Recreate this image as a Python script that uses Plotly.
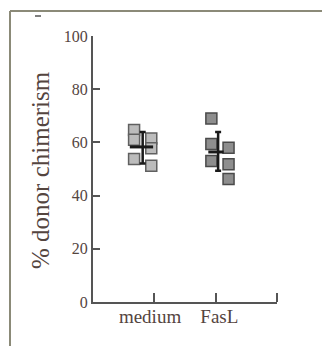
import plotly.graph_objects as go

categories = ["medium", "FasL"]
medium_values = [64.7, 61.0, 53.8, 61.5, 57.8, 51.2]
fasl_values = [69.0, 59.4, 53.0, 58.0, 51.8, 46.2]
medium_offsets = [-0.33, -0.33, -0.33, -0.05, -0.05, -0.05]
fasl_offsets = [-0.07, -0.07, -0.07, 0.21, 0.21, 0.21]
means = [58.3, 56.4]
err_plus = [5.6, 7.5]
err_minus = [6.2, 7.1]
mean_x = [0.81, 2.04]
y_ticks = [0, 20, 40, 60, 80, 100]

serif = "Liberation Serif, Times New Roman, serif"
txt = "#54453f"

fig = go.Figure()
fig.add_trace(go.Scatter(
    x=[1 + o for o in medium_offsets], y=medium_values, mode="markers",
    marker=dict(symbol="square", size=11, color="#bcbcbc", line=dict(color="#606060", width=1.5)),
    showlegend=False, hoverinfo="skip"))
fig.add_trace(go.Scatter(
    x=[2 + o for o in fasl_offsets], y=fasl_values, mode="markers",
    marker=dict(symbol="square", size=11, color="#8e8e8e", line=dict(color="#4a4a4a", width=1.5)),
    showlegend=False, hoverinfo="skip"))
half = [(0.6, 0.98), (1.88, 2.13)]
for i, m in enumerate(means):
    fig.add_trace(go.Scatter(x=list(half[i]), y=[m, m], mode="lines",
                             line=dict(color="#1a1a1a", width=3),
                             showlegend=False, hoverinfo="skip"))
fig.add_trace(go.Scatter(
    x=mean_x, y=means, mode="markers", marker=dict(size=1, color="rgba(0,0,0,0)"),
    error_y=dict(type="data", symmetric=False, array=err_plus, arrayminus=err_minus,
                 color="#1a1a1a", thickness=2.5, width=3),
    showlegend=False, hoverinfo="skip"))

fig.update_xaxes(range=[0, 3], tickvals=[0.93, 2.06], ticktext=categories,
                 ticks="", showline=True, linecolor="#555", linewidth=2, showgrid=False,
                 zeroline=False, ticklabelstandoff=-4,
                 minor=dict(tickvals=[1, 2, 3], ticks="inside", ticklen=9, tickwidth=2,
                            tickcolor="#555", showgrid=False),
                 tickfont=dict(family=serif, size=19, color=txt))
fig.update_yaxes(range=[0, 100], tickvals=y_ticks, ticks="inside", ticklen=7, tickwidth=2,
                 tickcolor="#555", showline=True, linecolor="#555", linewidth=2,
                 showgrid=False, zeroline=False,
                 tickfont=dict(family=serif, size=16, color=txt))

OFF = 8  # page body margin
L, T = 93 - OFF, 36 - OFF
pw, ph = 184, 266
W, H = 330, 346
R = W - L - pw
B = H - T - ph

def px(x):
    return (x - OFF - L) / pw

def py(y):
    return (T + ph - (y - OFF)) / ph

shapes = [
    dict(type="line", xref="paper", yref="paper", x0=px(10), x1=px(10), y0=py(360), y1=py(11),
         line=dict(color="#8b8a78", width=2)),
    dict(type="line", xref="paper", yref="paper", x0=px(10), x1=px(340), y0=py(11), y1=py(11),
         line=dict(color="#8b8a78", width=2)),
    dict(type="line", xref="paper", yref="paper", x0=px(35), x1=px(41), y0=py(16), y1=py(16),
         line=dict(color="#555", width=1.5)),
]

fig.update_layout(
    width=W, height=H, margin=dict(l=L, r=R, t=T, b=B, autoexpand=False),
    paper_bgcolor="white", plot_bgcolor="white", shapes=shapes,
    annotations=[dict(text="% donor chimerism", xref="paper", yref="paper",
                      x=px(40), y=py(170), xanchor="center", yanchor="middle",
                      textangle=-90, showarrow=False,
                      font=dict(family=serif, size=25, color=txt))],
)
fig.write_html("out.html")
